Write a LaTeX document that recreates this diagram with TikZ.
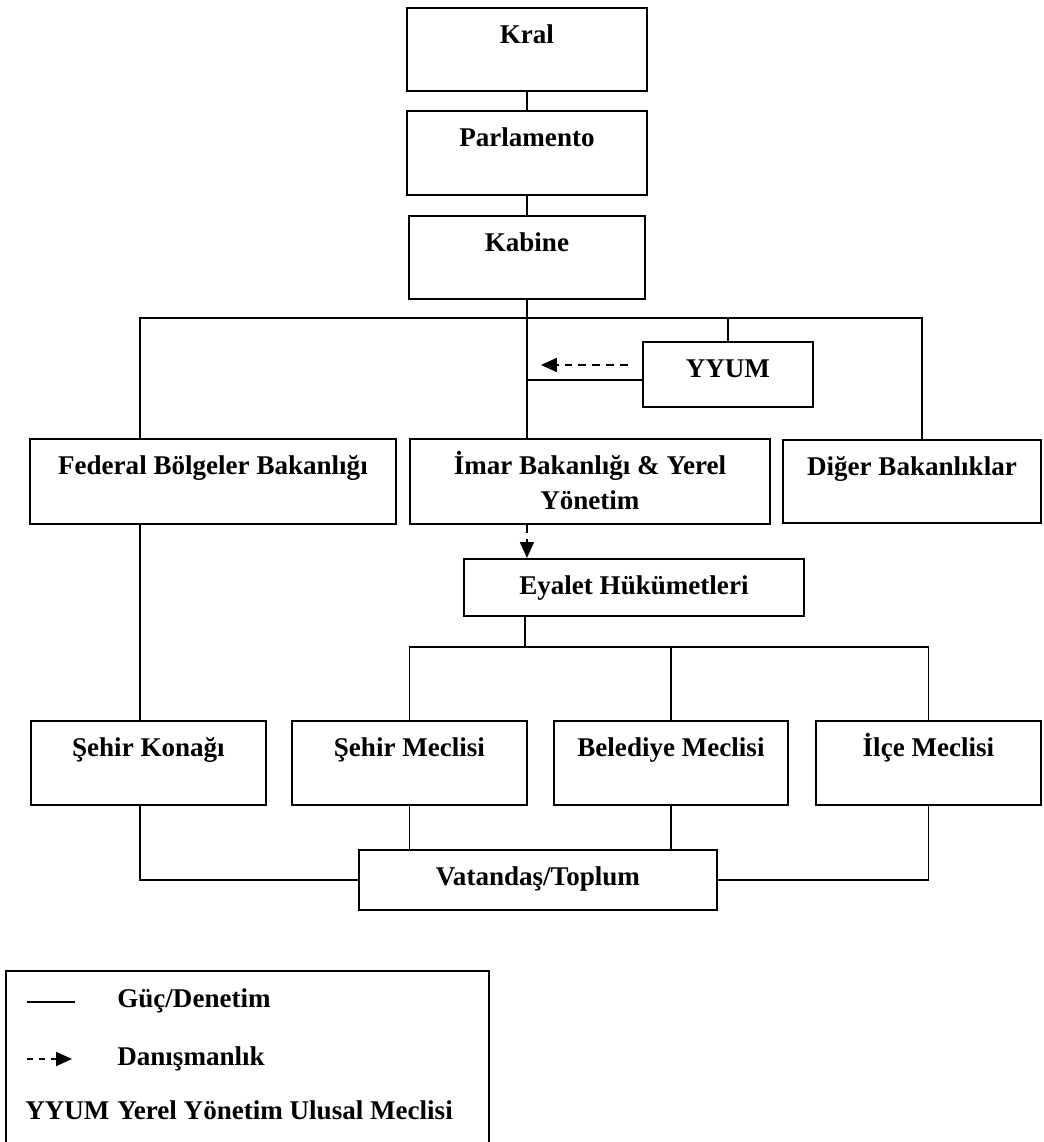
\documentclass[tikz,border=0pt]{standalone}
\usepackage{fontspec}
\setmainfont{Liberation Serif}
\usepackage{tikz}
\usetikzlibrary{positioning,arrows.meta,calc}

\begin{document}
\begin{tikzpicture}[x=0.02cm, y=-0.02cm,
    every node/.style={font=\fontsize{15.4}{19.5}\selectfont\bfseries},
    kutu/.style={draw, line width=1.1pt, anchor=north west, inner sep=0pt, align=flush center, text height=0.72cm},
    guc/.style={line width=1pt},
    danis/.style={line width=1pt, dash pattern=on 4.5pt off 3.4pt, -{Triangle[length=0.32cm,width=0.28cm]}},
    lejant/.style={anchor=base west, inner sep=0pt}]
  \useasboundingbox (0,0) rectangle (1044,1142);
  % ust kademe
  \node[kutu, text width=4.8cm, text depth=0.94cm] (kral) at (406,7) {Kral};
  \node[kutu, text width=4.8cm, text depth=0.96cm] (parl) at (406,110) {Parlamento};
  \node[kutu, text width=4.72cm, text depth=0.94cm] (kabine) at (408,215) {Kabine};
  \node[kutu, text width=3.4cm, text depth=0.58cm] (yyum) at (642,341) {YYUM};
  % bakanliklar
  \node[kutu, text width=7.32cm, text depth=0.98cm] (fed) at (29,438) {Federal Bölgeler Bakanlığı};
  \node[kutu, text width=7.2cm, text depth=0.98cm] (imar) at (409,438) {İmar Bakanlığı \& Yerel\\Yönetim};
  \node[kutu, text width=5.16cm, text depth=0.94cm] (diger) at (782,439) {Diğer Bakanlıklar};
  \node[kutu, text width=6.8cm, text depth=0.42cm] (eyalet) at (463,558) {Eyalet Hükümetleri};
  % yerel birimler
  \node[kutu, text width=4.7cm, text depth=0.96cm] (konak) at (30,720) {Şehir Konağı};
  \node[kutu, text width=4.7cm, text depth=0.96cm] (sehirm) at (291,720) {Şehir Meclisi};
  \node[kutu, text width=4.68cm, text depth=0.96cm] (belediye) at (553,720) {Belediye Meclisi};
  \node[kutu, text width=4.5cm, text depth=0.96cm] (ilce) at (815,720) {İlçe Meclisi};
  \node[kutu, text width=7.16cm, text depth=0.48cm] (vatan) at (358,849) {Vatandaş/Toplum};

  \coordinate (bl) at (140,318);
  \coordinate (br) at (922,318);
  \coordinate (b2) at (525,647);

  \draw[guc] (kral) -- (parl);
  \draw[guc] (parl) -- (kabine);
  \draw[guc] (kabine.south) -- (kabine.south |- imar.north);
  \draw[guc] (bl |- fed.north) -- (bl) -- (br) -- (br |- diger.north);
  \draw[guc] (yyum.north) -- (yyum.north |- bl);
  \draw[guc] ($(yyum.west)+(0,5.5)$) -- ($(kabine.south |- yyum.west)+(0,5.5)$);
  \draw[danis] ($(yyum.west)+(-14,-9.5)$) -- ($(kabine.south |- yyum.west)+(14,-9.5)$);
  \draw[danis] (kabine.south |- imar.south) -- (kabine.south |- eyalet.north);
  \draw[guc] (bl |- fed.south) -- (bl |- konak.north);
  \draw[guc] (b2 |- eyalet.south) -- (b2);
  \draw[guc] (sehirm.north) |- (b2) -| (ilce.north);
  \draw[guc] (belediye.north) -- (belediye.north |- b2);
  \draw[guc] (bl |- konak.south) |- (vatan.west);
  \draw[guc] (sehirm.south) -- (sehirm.south |- vatan.north);
  \draw[guc] (belediye.south) -- (belediye.south |- vatan.north);
  \draw[guc] (ilce.south) |- (vatan.east);

  % lejant
  \node[draw, line width=1.1pt, anchor=north west, inner sep=0pt, minimum width=9.66cm, minimum height=3.8cm] (lejantkutu) at (5,970) {};
  \coordinate (g1) at (27,1002);
  \coordinate (g2) at (75,1002);
  \draw[guc] (g1) -- (g2);
  \node[lejant] (gucyazi) at (117,1007) {Güç/Denetim};
  \coordinate (d1) at (27,1059);
  \coordinate (d2) at (72,1059);
  \draw[danis, dash pattern=on 3.4pt off 3.4pt] (d1) -- (d2);
  \node[lejant] (danisyazi) at (117,1065) {Danışmanlık};
  \node[lejant] (kisa) at (25,1119) {YYUM};
  \node[lejant] (uzun) at (117,1119) {Yerel Yönetim Ulusal Meclisi};
\end{tikzpicture}
\end{document}
